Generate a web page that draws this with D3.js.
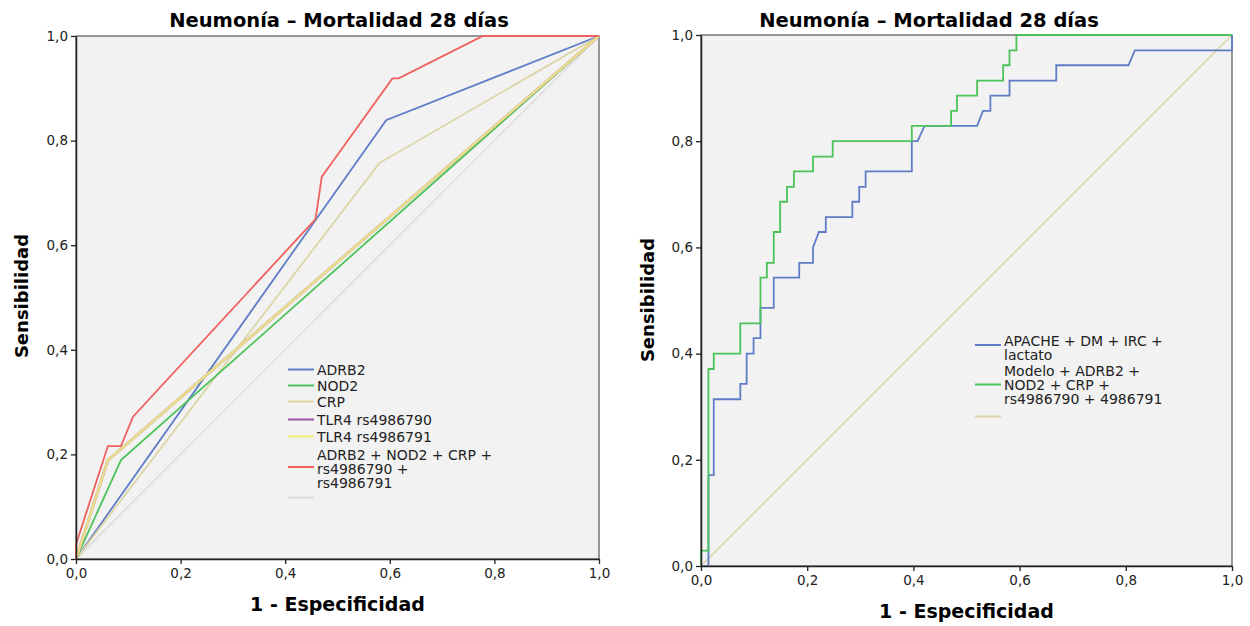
<!DOCTYPE html>
<html>
<head>
<meta charset="utf-8">
<script src="https://cdn.jsdelivr.net/npm/d3@7"></script>
<style>
  body { margin: 0; background: #fff; }
  svg { font-family: "DejaVu Sans", sans-serif; }
</style>
</head>
<body>
<svg id="chart" width="1250" height="626"></svg>
<script>
// Datos - gráfico izquierdo (curvas ROC por marcador)
const adrb2Fpr = [0, 0.593, 1];
const adrb2Tpr = [0, 0.839, 1];
const nod2Fpr = [0, 0.086, 1];
const nod2Tpr = [0, 0.189, 1];
const crpFpr = [0, 0.58, 1];
const crpTpr = [0, 0.757, 1];
const tlr790Fpr = [0, 0.061, 1];
const tlr790Tpr = [0, 0.189, 1];
const tlr791Fpr = [0, 0.061, 1];
const tlr791Tpr = [0, 0.189, 1];
const comboFpr = [0, 0, 0.061, 0.086, 0.109, 0.458, 0.470, 0.483, 0.605, 0.617, 0.778, 1];
const comboTpr = [0, 0.028, 0.216, 0.216, 0.272, 0.65, 0.731, 0.749, 0.919, 0.919, 1, 1];
const refFpr = [0, 1];
const refTpr = [0, 1];

const leftLabels = ["ADRB2", "NOD2", "CRP", "TLR4 rs4986790", "TLR4 rs4986791",
    "ADRB2 + NOD2 + CRP +|rs4986790 +|rs4986791", ""];

// Datos - gráfico derecho (curvas escalonadas)
const apacheFpr = [0, 0.014, 0.014, 0.024, 0.024, 0.074, 0.074, 0.086, 0.086, 0.099, 0.099, 0.112, 0.112,
    0.137, 0.137, 0.185, 0.185, 0.211, 0.211, 0.222, 0.235, 0.235, 0.285, 0.285, 0.298, 0.298, 0.310, 0.310,
    0.397, 0.397, 0.408, 0.421, 0.520, 0.531, 0.545, 0.545, 0.581, 0.581, 0.669, 0.669, 0.805, 0.817, 1, 1];
const apacheTpr = [0, 0, 0.171, 0.171, 0.314, 0.314, 0.343, 0.343, 0.4, 0.4, 0.429, 0.429, 0.486,
    0.486, 0.543, 0.543, 0.571, 0.571, 0.6, 0.629, 0.629, 0.657, 0.657, 0.686, 0.686, 0.714, 0.714, 0.743,
    0.743, 0.8, 0.8, 0.829, 0.829, 0.857, 0.857, 0.886, 0.886, 0.914, 0.914, 0.943, 0.943, 0.971, 0.971, 1];
const modeloFpr = [0, 0, 0.014, 0.014, 0.024, 0.024, 0.074, 0.074, 0.112, 0.112, 0.124, 0.124, 0.137, 0.137,
    0.149, 0.149, 0.162, 0.162, 0.175, 0.175, 0.211, 0.211, 0.248, 0.248, 0.397, 0.397, 0.471, 0.471,
    0.482, 0.482, 0.520, 0.520, 0.569, 0.569, 0.581, 0.581, 0.594, 0.594, 1];
const modeloTpr = [0, 0.029, 0.029, 0.371, 0.371, 0.4, 0.4, 0.457, 0.457, 0.543, 0.543, 0.571, 0.571, 0.629,
    0.629, 0.686, 0.686, 0.714, 0.714, 0.743, 0.743, 0.771, 0.771, 0.8, 0.8, 0.829, 0.829, 0.857,
    0.857, 0.886, 0.886, 0.914, 0.914, 0.943, 0.943, 0.971, 0.971, 1, 1];

const rightLabels = ["APACHE + DM + IRC +|lactato", "Modelo + ADRB2 +|NOD2 + CRP +|rs4986790 + 4986791", ""];

const ticks = [0, 0.2, 0.4, 0.6, 0.8, 1.0];
const titleText = "Neumonía – Mortalidad 28 días";

const zip = (xs, ys) => xs.map((x, i) => [x, ys[i]]);

const leftSeries = [
    { pts: zip(refFpr, refTpr), color: "#dadada", w: 1.5 },
    { pts: zip(adrb2Fpr, adrb2Tpr), color: "#5f7dc6", w: 1.8 },
    { pts: zip(crpFpr, crpTpr), color: "#dcd6a6", w: 1.8 },
    { pts: zip(nod2Fpr, nod2Tpr), color: "#4cc35a", w: 1.8 },
    { pts: zip(tlr790Fpr, tlr790Tpr), color: "#9a55a8", w: 2.6 },
    { pts: zip(tlr791Fpr, tlr791Tpr), color: "#ebdf8a", w: 2.6 },
    { pts: zip(comboFpr, comboTpr), color: "#f0605e", w: 1.8 }
];
const leftLegendColors = ["#5f7dc6", "#4cc35a", "#dcd6a6", "#9a55a8", "#f5ef7a", "#f0605e", "#dadada"];

const rightSeries = [
    { pts: zip(refFpr, refTpr), color: "#dcd6a6", w: 1.5 },
    { pts: zip(apacheFpr, apacheTpr), color: "#5f7dc6", w: 1.8 },
    { pts: zip(modeloFpr, modeloTpr), color: "#4cc35a", w: 1.8 }
];
const rightLegendColors = ["#5f7dc6", "#4cc35a", "#dcd6a6"];

const svg = d3.select("#chart");
const fmt = d => d3.format(".1f")(d).replace(".", ",");

function drawPanel(cfg) {
    const x = d3.scaleLinear().domain([0, 1]).range([cfg.x0, cfg.x1]);
    const y = d3.scaleLinear().domain([0, 1]).range([cfg.y0, cfg.y1]);
    const g = svg.append("g");

    g.append("rect")
        .attr("x", cfg.x0).attr("y", cfg.y1)
        .attr("width", cfg.x1 - cfg.x0).attr("height", cfg.y0 - cfg.y1)
        .attr("fill", "#f2f2f2")
        .attr("stroke", "#555").attr("stroke-width", 1.2);

    const line = d3.line().x(d => x(d[0])).y(d => y(d[1]));
    g.selectAll("path.curve")
        .data(cfg.series)
        .enter().append("path")
        .attr("class", "curve")
        .attr("d", d => line(d.pts))
        .attr("fill", "none")
        .attr("stroke", d => d.color)
        .attr("stroke-width", d => d.w);

    // Ejes
    const xAxis = g.append("g")
        .attr("transform", `translate(0,${cfg.y0})`)
        .call(d3.axisBottom(x).tickValues(ticks).tickFormat(fmt).tickSize(5).tickPadding(4).tickSizeOuter(0));
    const yAxis = g.append("g")
        .attr("transform", `translate(${cfg.x0},0)`)
        .call(d3.axisLeft(y).tickValues(ticks).tickFormat(fmt).tickSize(5).tickPadding(3).tickSizeOuter(0));
    [xAxis, yAxis].forEach(a => {
        a.select(".domain").attr("stroke", "#222").attr("stroke-width", 1.5);
        a.selectAll(".tick line").attr("stroke", "#222").attr("stroke-width", 1.3);
        a.selectAll("text").attr("font-size", 13.5).attr("fill", "#222")
            .attr("font-family", "DejaVu Sans, sans-serif");
    });

    // Títulos
    g.append("text")
        .attr("x", cfg.titleX).attr("y", 27)
        .attr("text-anchor", "middle")
        .attr("font-size", 19.5).attr("font-weight", "bold")
        .text(titleText);
    g.append("text")
        .attr("x", (cfg.x0 + cfg.x1) / 2).attr("y", cfg.xTitleY)
        .attr("text-anchor", "middle")
        .attr("font-size", 19).attr("font-weight", "bold")
        .text("1 - Especificidad");
    g.append("text")
        .attr("transform", `translate(${cfg.yTitleX},${cfg.yTitleY}) rotate(-90)`)
        .attr("text-anchor", "middle")
        .attr("font-size", 18).attr("font-weight", "bold")
        .text("Sensibilidad");

    // Leyenda
    const lg = g.append("g");
    cfg.legendRows.forEach((row, i) => {
        lg.append("line")
            .attr("x1", cfg.legX).attr("x2", cfg.legX + 26)
            .attr("y1", row.lineY).attr("y2", row.lineY)
            .attr("stroke", cfg.legendColors[i]).attr("stroke-width", 2);
        const t = lg.append("text")
            .attr("x", cfg.legX + 29)
            .attr("font-size", 14).attr("fill", "#222");
        cfg.labels[i].split("|").forEach((s, j) => {
            if (s === "") return;
            t.append("tspan")
                .attr("x", cfg.legX + 29)
                .attr("y", row.textY + j * cfg.lineH)
                .attr("dy", "0.35em")
                .text(s);
        });
    });
}

drawPanel({
    x0: 76, x1: 599, y0: 559, y1: 36,
    series: leftSeries,
    titleX: 339, xTitleY: 611, yTitleX: 28, yTitleY: 296,
    legX: 288, lineH: 14,
    labels: leftLabels, legendColors: leftLegendColors,
    legendRows: [
        { lineY: 369.5, textY: 370 },
        { lineY: 385.5, textY: 386 },
        { lineY: 401.5, textY: 402 },
        { lineY: 419.5, textY: 420 },
        { lineY: 436.5, textY: 437 },
        { lineY: 467, textY: 455 },
        { lineY: 497.5, textY: 497 }
    ]
});

drawPanel({
    x0: 701, x1: 1232, y0: 566, y1: 35,
    series: rightSeries,
    titleX: 929, xTitleY: 618, yTitleX: 654, yTitleY: 300,
    legX: 975, lineH: 14,
    labels: rightLabels, legendColors: rightLegendColors,
    legendRows: [
        { lineY: 345, textY: 341 },
        { lineY: 384.5, textY: 371.5 },
        { lineY: 416.5, textY: 416 }
    ]
});
</script>
</body>
</html>
